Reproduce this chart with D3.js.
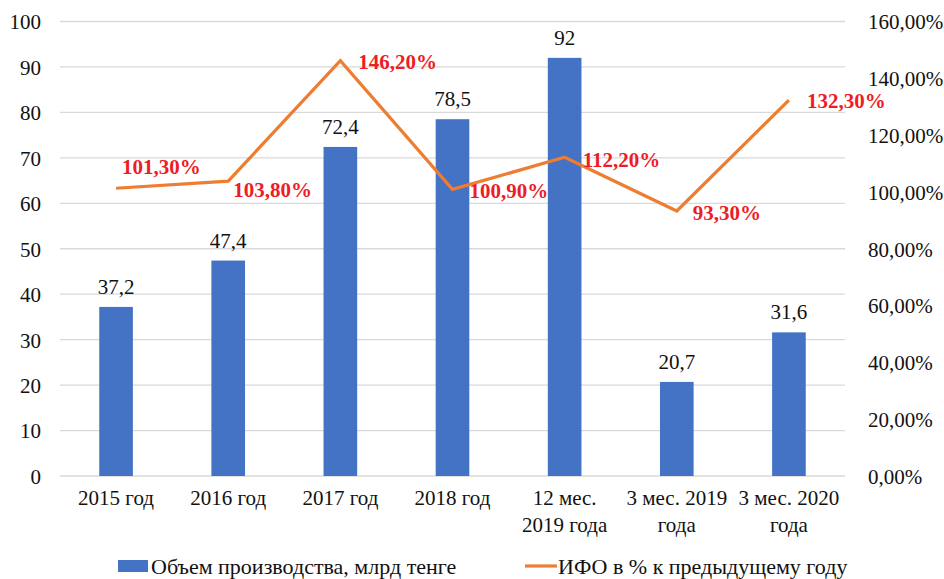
<!DOCTYPE html>
<html>
<head>
<meta charset="utf-8">
<script src="https://cdn.jsdelivr.net/npm/d3@7"></script>
<style>
  html, body { margin: 0; padding: 0; background: #fff; }
  svg, svg text { font-family: "Liberation Serif", "Tinos", "Times New Roman", serif; }
</style>
</head>
<body>
<svg id="chart" width="944" height="579"></svg>
<script>
// Categories (multi-line labels split on "\n")
const categories = ["2015 год", "2016 год", "2017 год", "2018 год", "12 мес.\n2019 года", "3 мес. 2019\nгода", "3 мес. 2020\nгода"];
// Production volume, bn tenge
const volume = [37.2, 47.4, 72.4, 78.5, 92, 20.7, 31.6];
// Physical volume index, % to previous year
const ifo = [101.3, 103.8, 146.2, 100.9, 112.2, 93.3, 132.3];
const leftTicks = [0, 10, 20, 30, 40, 50, 60, 70, 80, 90, 100];
const rightTicks = [0, 20, 40, 60, 80, 100, 120, 140, 160];
const seriesNames = ["Объем производства, млрд тенге", "ИФО в % к предыдущему году"];

// Where each percent label sits relative to its point (dx, dy of label's left-middle)
const pctLabelOffset = [[6, -22], [5, 8.5], [18, 1], [17, 1], [18, 2], [16, 1.5], [18, 0.5]];

const fmt = v => String(v).replace(".", ",");
const fmtPct = v => v.toFixed(2).replace(".", ",") + "%";

const svg = d3.select("#chart");
const m = { left: 60, right: 99, top: 21.5, bottom: 103 };
const W = 944, H = 579;
const x0 = m.left, x1 = W - m.right, yTop = m.top, yBot = H - m.bottom;
const FS = 21;

const x = d3.scaleBand().domain(categories).range([x0, x1]).paddingInner(0.7).paddingOuter(0.35);
const yL = d3.scaleLinear().domain([0, 100]).range([yBot, yTop]);
const yR = d3.scaleLinear().domain([0, 160]).range([yBot, yTop]);
const cx = c => x(c) + x.bandwidth() / 2;

// Gridlines
svg.append("g").selectAll("line").data(leftTicks).join("line")
  .attr("x1", x0).attr("x2", x1)
  .attr("y1", d => yL(d)).attr("y2", d => yL(d))
  .attr("stroke", "#d9d9d9").attr("stroke-width", 1.3);

// Left axis labels
const axL = svg.append("g").attr("transform", `translate(${x0 - 19},0)`)
  .call(d3.axisLeft(yL).tickValues(leftTicks).tickSize(0).tickPadding(0).tickFormat(d3.format("d")));
axL.attr("font-family", null).attr("font-size", null);
axL.select(".domain").remove();
axL.selectAll("text").attr("font-size", FS).attr("fill", "#111").attr("dy", "0.35em");

// Right axis labels
const axR = svg.append("g").attr("transform", `translate(${x1 + 23},0)`)
  .call(d3.axisRight(yR).tickValues(rightTicks).tickSize(0).tickPadding(0).tickFormat(fmtPct));
axR.attr("font-family", null).attr("font-size", null);
axR.select(".domain").remove();
axR.selectAll("text").attr("font-size", FS).attr("fill", "#111").attr("dy", "0.35em");

// Bars
svg.append("g").selectAll("rect").data(volume).join("rect")
  .attr("x", (d, i) => x(categories[i]))
  .attr("width", x.bandwidth())
  .attr("y", d => yL(d))
  .attr("height", d => yBot - yL(d))
  .attr("fill", "#4472c4");

// Bar value labels
svg.append("g").selectAll("text").data(volume).join("text")
  .attr("x", (d, i) => cx(categories[i]))
  .attr("y", d => yL(d) - 13)
  .attr("text-anchor", "middle")
  .attr("font-size", FS).attr("fill", "#111")
  .text(d => fmt(d));

// Category labels
const catG = svg.append("g");
categories.forEach((c, i) => {
  const t = catG.append("text")
    .attr("x", cx(c)).attr("y", yBot + 29)
    .attr("text-anchor", "middle").attr("font-size", FS).attr("fill", "#111");
  c.split("\n").forEach((line, k) => {
    t.append("tspan").attr("x", cx(c)).attr("dy", k === 0 ? 0 : 27).text(line);
  });
});

// Index line
const line = d3.line().x((d, i) => cx(categories[i])).y(d => yR(d));
svg.append("path").datum(ifo)
  .attr("d", line)
  .attr("fill", "none").attr("stroke", "#ed7d31").attr("stroke-width", 3.2)
  .attr("stroke-linejoin", "miter");

// Percent labels
svg.append("g").selectAll("text").data(ifo).join("text")
  .attr("x", (d, i) => cx(categories[i]) + pctLabelOffset[i][0])
  .attr("y", (d, i) => yR(d) + pctLabelOffset[i][1])
  .attr("dy", "0.35em")
  .attr("font-size", FS).attr("font-weight", "bold").attr("fill", "#ee1c25")
  .text(d => fmtPct(d));

// Legend
const lg = svg.append("g").attr("transform", `translate(0,${H - 13})`);
lg.append("rect").attr("x", 118).attr("y", -6).attr("width", 30).attr("height", 12).attr("fill", "#4472c4");
lg.append("text").attr("x", 151).attr("y", 0).attr("dy", "0.35em").attr("font-size", 22).attr("fill", "#111").text(seriesNames[0]);
lg.append("line").attr("x1", 525).attr("x2", 557).attr("y1", 0).attr("y2", 0).attr("stroke", "#ed7d31").attr("stroke-width", 3.2);
lg.append("text").attr("x", 558).attr("y", 0).attr("dy", "0.35em").attr("font-size", 22).attr("fill", "#111").text(seriesNames[1]);
</script>
</body>
</html>
